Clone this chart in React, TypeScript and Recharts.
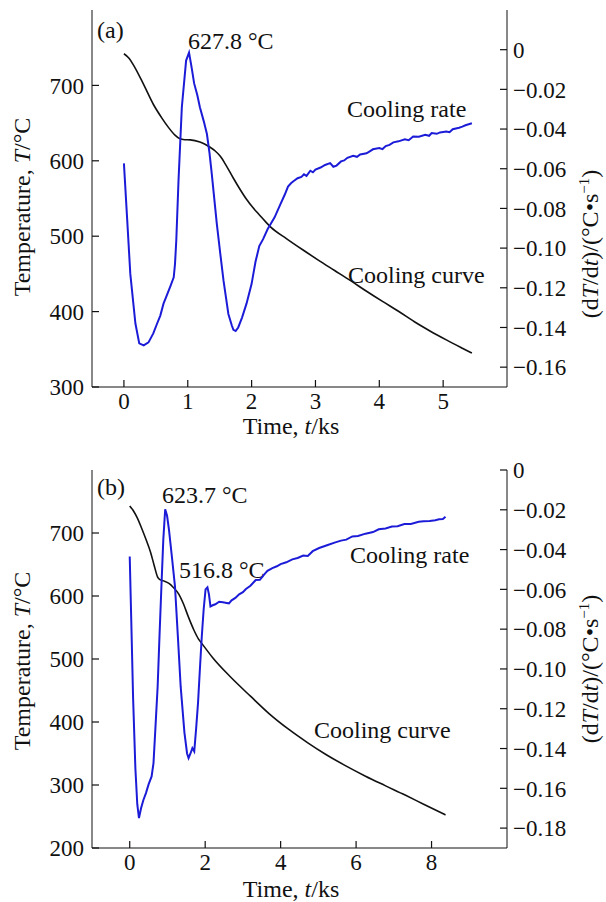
import React from 'react';
import { LineChart, Line, XAxis, YAxis, Customized } from 'recharts';

const FONT = '"Liberation Serif", "Times New Roman", serif';
const BLUE = '#1c1cd8';
const INK = '#111';

// ---- panel (a) ----
const curveTimeA = [0, 0.08, 0.15, 0.31, 0.46, 0.6, 0.7, 0.8, 0.87, 0.95, 1.04, 1.19, 1.27, 1.35, 1.43, 1.51, 1.6, 1.71, 1.82, 1.92, 2.02, 2.13, 2.22, 2.3, 2.55, 2.8, 3.05, 3.3, 3.55, 3.8, 4.05, 4.3, 4.55, 4.8, 5.05, 5.3, 5.45];
const curveTempA = [742, 736, 727, 701, 675, 656, 644, 634, 629.5, 628, 627.8, 625, 622, 618, 613, 606, 594, 577.5, 562, 549, 538, 527.5, 519, 512, 496.5, 482, 468, 454.5, 441, 427, 413.5, 400.5, 386.5, 374, 362.5, 351.5, 345];

const rateTimeA = [0, 0.05, 0.1, 0.18, 0.24, 0.31, 0.385, 0.46, 0.52, 0.57, 0.62, 0.67, 0.73, 0.78, 0.8, 0.82, 0.855, 0.907, 0.974, 1.02, 1.06, 1.1, 1.15, 1.19, 1.25, 1.3, 1.34, 1.376, 1.455, 1.51, 1.56, 1.636, 1.69, 1.715, 1.75, 1.79, 1.85, 1.92, 2.0, 2.06, 2.12, 2.18, 2.25, 2.36, 2.45, 2.52, 2.57, 2.62, 2.66, 2.72, 2.78, 2.82, 2.86, 2.92, 2.96, 3.0, 3.08, 3.15, 3.23, 3.28, 3.33, 3.4, 3.45, 3.5, 3.59, 3.65, 3.7, 3.8, 3.85, 3.9, 4.0, 4.05, 4.1, 4.16, 4.22, 4.3, 4.4, 4.46, 4.53, 4.62, 4.72, 4.78, 4.82, 4.9, 4.95, 5.05, 5.1, 5.15, 5.25, 5.3, 5.35, 5.45];
const rateValA = [-0.0573, -0.085, -0.113, -0.138, -0.148, -0.149, -0.1475, -0.143, -0.138, -0.134, -0.128, -0.124, -0.119, -0.1147, -0.108, -0.0962, -0.066, -0.029, -0.0055, -0.0015, -0.0089, -0.017, -0.023, -0.029, -0.036, -0.0425, -0.052, -0.0626, -0.0878, -0.103, -0.1164, -0.1332, -0.139, -0.1412, -0.1418, -0.14, -0.135, -0.128, -0.118, -0.107, -0.099, -0.0955, -0.0905, -0.0845, -0.078, -0.073, -0.069, -0.0672, -0.0662, -0.0648, -0.0641, -0.0628, -0.0636, -0.061, -0.0618, -0.0604, -0.0594, -0.0581, -0.0572, -0.059, -0.0584, -0.0563, -0.0558, -0.0545, -0.0535, -0.054, -0.0528, -0.0522, -0.0512, -0.0502, -0.0496, -0.0501, -0.0486, -0.048, -0.0467, -0.0462, -0.0452, -0.0456, -0.0438, -0.0439, -0.0429, -0.0434, -0.042, -0.0424, -0.0417, -0.0412, -0.0416, -0.0401, -0.0393, -0.0388, -0.0381, -0.0371];

// ---- panel (b) ----
const curveTimeB = [0, 0.1, 0.2, 0.3, 0.43, 0.55, 0.65, 0.74, 0.8, 0.9, 1.04, 1.15, 1.3, 1.42, 1.56, 1.7, 1.82, 1.92, 2.2, 2.68, 3.2, 3.7, 4.2, 4.72, 5.2, 5.74, 6.25, 6.77, 7.3, 7.79, 8.37];
const curveTempB = [743, 735, 724, 710, 690, 670, 648, 630, 626, 624, 620, 614, 603, 588, 566, 546, 532, 524, 502, 471, 441, 413, 389, 367, 348.5, 330, 314, 299, 284, 269.5, 252.5];

const rateTimeB = [0, 0.04, 0.09, 0.15, 0.2, 0.245, 0.3, 0.36, 0.43, 0.5, 0.58, 0.63, 0.68, 0.74, 0.79, 0.84, 0.89, 0.94, 0.99, 1.04, 1.12, 1.2, 1.28, 1.35, 1.45, 1.52, 1.56, 1.61, 1.66, 1.71, 1.76, 1.81, 1.86, 1.91, 1.96, 2.01, 2.06, 2.1, 2.14, 2.2, 2.27, 2.37, 2.47, 2.57, 2.63, 2.7, 2.8, 2.9, 3.0, 3.08, 3.2, 3.34, 3.45, 3.55, 3.65, 3.78, 3.9, 4.0, 4.15, 4.31, 4.45, 4.6, 4.72, 4.85, 5.02, 5.23, 5.45, 5.6, 5.74, 5.9, 6.05, 6.25, 6.45, 6.6, 6.78, 6.95, 7.1, 7.28, 7.45, 7.66, 7.79, 7.95, 8.1, 8.2, 8.3, 8.37];
const rateValB = [-0.0435, -0.075, -0.115, -0.15, -0.168, -0.175, -0.17, -0.166, -0.1624, -0.158, -0.154, -0.1473, -0.13, -0.1088, -0.083, -0.0586, -0.035, -0.0197, -0.023, -0.03, -0.044, -0.0586, -0.085, -0.1088, -0.132, -0.1425, -0.1448, -0.1425, -0.1398, -0.1415, -0.13, -0.1172, -0.1, -0.0837, -0.07, -0.06, -0.059, -0.0625, -0.0686, -0.068, -0.0675, -0.0662, -0.0665, -0.0668, -0.067, -0.0655, -0.0643, -0.0625, -0.0614, -0.0598, -0.0582, -0.0553, -0.0552, -0.0528, -0.0507, -0.0493, -0.0484, -0.0473, -0.0464, -0.0449, -0.0442, -0.043, -0.0432, -0.0408, -0.0392, -0.0378, -0.0364, -0.0355, -0.035, -0.0334, -0.0332, -0.032, -0.0312, -0.0298, -0.0294, -0.0284, -0.0283, -0.0272, -0.0271, -0.026, -0.0258, -0.0256, -0.0253, -0.0248, -0.0246, -0.0235];

const ticksA = { x: [0, 1, 2, 3, 4, 5], left: [300, 400, 500, 600, 700], right: [0, -0.02, -0.04, -0.06, -0.08, -0.1, -0.12, -0.14, -0.16] };
const ticksB = { x: [0, 2, 4, 6, 8], left: [200, 300, 400, 500, 600, 700], right: [0, -0.02, -0.04, -0.06, -0.08, -0.1, -0.12, -0.14, -0.16, -0.18] };

const zip = (ts: number[], vs: number[], key: string) => ts.map((t, i) => ({ t, [key]: vs[i] }));

const fmtRate = (v: number) => (v === 0 ? '0' : '\u2212' + Math.abs(v).toFixed(2));

// plot box edges (px) shared by both panels
const LEFT = 92;
const RIGHT = 507;
const TICK = 7;

type Note = { x: number; y: number; text: React.ReactNode };

function Panel(props: {
  curve: any[];
  rate: any[];
  xDomain: number[];
  leftDomain: number[];
  rightDomain: number[];
  ticks: { x: number[]; left: number[]; right: number[] };
  marginTop: number;
  marginBottom: number;
  notes: Note[];
  titleY: number;
  leftTitleY: number;
  rightTitleY: number;
}) {
  const { curve, rate, xDomain, leftDomain, rightDomain, ticks, notes } = props;
  const bottom = 451 - props.marginBottom - 30;

  const leftTick = (p: any) => (
    <g key={`l${p.index}`}>
      <line x1={LEFT} x2={LEFT + TICK} y1={p.y} y2={p.y} stroke={INK} strokeWidth={1.2} />
      <text x={84} y={p.y} dy="0.36em" textAnchor="end" fontSize={23} fill={INK} fontFamily={FONT}>
        {p.payload.value}
      </text>
    </g>
  );
  const rightTick = (p: any) => (
    <g key={`r${p.index}`}>
      <line x1={RIGHT - TICK} x2={RIGHT} y1={p.y} y2={p.y} stroke={INK} strokeWidth={1.2} />
      <text x={513} y={p.y} dy="0.36em" textAnchor="start" fontSize={23} fill={INK} fontFamily={FONT}>
        {fmtRate(p.payload.value)}
      </text>
    </g>
  );
  const bottomTick = (p: any) => (
    <g key={`b${p.index}`}>
      <line x1={p.x} x2={p.x} y1={bottom - TICK} y2={bottom} stroke={INK} strokeWidth={1.2} />
      <text x={p.x} y={bottom + 6} dy="0.71em" textAnchor="middle" fontSize={23} fill={INK} fontFamily={FONT}>
        {p.payload.value}
      </text>
    </g>
  );

  return (
    <LineChart
      width={606}
      height={451}
      margin={{ top: props.marginTop, left: 32, right: 29, bottom: props.marginBottom }}
      style={{ fontFamily: FONT }}
    >
      <XAxis
        type="number"
        dataKey="t"
        domain={xDomain}
        ticks={ticks.x}
        interval={0}
        allowDataOverflow
        height={30}
        tickLine={false}
        stroke={INK}
        tick={bottomTick}
      />
      <XAxis xAxisId="top" orientation="top" type="number" domain={xDomain} height={0} tick={false} tickLine={false} stroke={INK} />
      <YAxis
        yAxisId="left"
        type="number"
        domain={leftDomain}
        ticks={ticks.left}
        interval={0}
        allowDataOverflow
        width={60}
        tickLine={false}
        stroke={INK}
        tick={leftTick}
      />
      <YAxis
        yAxisId="right"
        orientation="right"
        type="number"
        domain={rightDomain}
        ticks={ticks.right}
        interval={0}
        allowDataOverflow
        width={70}
        tickLine={false}
        stroke={INK}
        tick={rightTick}
      />
      <Line data={curve} yAxisId="left" dataKey="T" stroke={INK} strokeWidth={1.6} dot={false} isAnimationActive={false} type="monotone" />
      <Line data={rate} yAxisId="right" dataKey="r" stroke={BLUE} strokeWidth={2} dot={false} isAnimationActive={false} type="linear" />
      <Customized
        component={() => (
          <g fontFamily={FONT} fill={INK} fontSize={24}>
            {notes.map((n, i) => (
              <text key={i} x={n.x} y={n.y}>
                {n.text}
              </text>
            ))}
            <text x={291} y={props.titleY} textAnchor="middle">
              Time, <tspan fontStyle="italic">t</tspan>/ks
            </text>
            <text transform={`translate(30, ${props.leftTitleY}) rotate(-90)`} textAnchor="middle">
              Temperature, <tspan fontStyle="italic">T</tspan>/°C
            </text>
            <text transform={`translate(598, ${props.rightTitleY}) rotate(-90)`} textAnchor="middle">
              (d<tspan fontStyle="italic">T</tspan>/d<tspan fontStyle="italic">t</tspan>)/(°C•s<tspan fontSize={15} dy={-9}>−1</tspan><tspan dy={9}>)</tspan>
            </text>
          </g>
        )}
      />
    </LineChart>
  );
}

export default function App() {
  const notesA: Note[] = [
    { x: 97, y: 38, text: '(a)' },
    { x: 188, y: 49, text: '627.8 °C' },
    { x: 347, y: 117, text: 'Cooling rate' },
    { x: 348, y: 283, text: 'Cooling curve' },
  ];
  const notesB: Note[] = [
    { x: 97, y: 44, text: '(b)' },
    { x: 162, y: 52, text: '623.7 °C' },
    { x: 179, y: 127, text: '516.8 °C' },
    { x: 350, y: 112, text: 'Cooling rate' },
    { x: 314, y: 287, text: 'Cooling curve' },
  ];
  return (
    <div style={{ position: 'absolute', left: 0, top: 0, width: 606, height: 902, background: '#fff' }}>
      <Panel
        curve={zip(curveTimeA, curveTempA, 'T')}
        rate={zip(rateTimeA, rateValA, 'r')}
        xDomain={[-0.5, 6]}
        leftDomain={[300, 800]}
        rightDomain={[-0.17, 0.02]}
        ticks={ticksA}
        marginTop={10}
        marginBottom={34}
        notes={notesA}
        titleY={434}
        leftTitleY={207}
        rightTitleY={244}
      />
      <Panel
        curve={zip(curveTimeB, curveTempB, 'T')}
        rate={zip(rateTimeB, rateValB, 'r')}
        xDomain={[-1, 10]}
        leftDomain={[200, 800]}
        rightDomain={[-0.19, 0]}
        ticks={ticksB}
        marginTop={19}
        marginBottom={24}
        notes={notesB}
        titleY={446}
        leftTitleY={210}
        rightTitleY={218}
      />
    </div>
  );
}
